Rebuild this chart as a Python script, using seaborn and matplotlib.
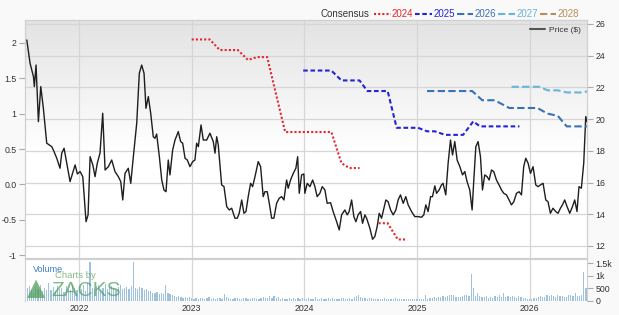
import numpy as np
import matplotlib
matplotlib.use("Agg")
import matplotlib.pyplot as plt
import seaborn as sns
from matplotlib.lines import Line2D

# consensus EPS estimates (left axis), x in fractional years
eps_2024_t = [2023.00, 2023.16, 2023.25, 2023.41, 2023.50, 2023.58, 2023.67, 2023.83, 2024.24, 2024.33, 2024.40, 2024.49]
eps_2024 = [2.05, 2.05, 1.90, 1.90, 1.76, 1.80, 1.80, 0.74, 0.74, 0.30, 0.23, 0.23]
eps_2024b_t = [2024.66, 2024.74, 2024.83, 2024.91]
eps_2024b = [-0.55, -0.55, -0.78, -0.78]
eps_2025_t = [2023.99, 2024.24, 2024.33, 2024.49, 2024.56, 2024.74, 2024.82, 2025.01, 2025.09, 2025.16, 2025.25, 2025.41, 2025.50, 2025.56, 2025.91]
eps_2025 = [1.61, 1.61, 1.47, 1.47, 1.32, 1.32, 0.80, 0.80, 0.75, 0.75, 0.70, 0.70, 0.89, 0.82, 0.82]
eps_2026_t = [2025.09, 2025.49, 2025.58, 2025.69, 2025.82, 2026.07, 2026.16, 2026.25, 2026.33, 2026.51]
eps_2026 = [1.32, 1.32, 1.19, 1.19, 1.08, 1.08, 1.00, 0.97, 0.82, 0.82]
eps_2027_t = [2025.84, 2026.09, 2026.16, 2026.25, 2026.33, 2026.49, 2026.51]
eps_2027 = [1.38, 1.38, 1.33, 1.33, 1.30, 1.30, 1.32]

# share price (right axis)
price_t = [
    2021.536, 2021.565, 2021.595, 2021.603, 2021.618, 2021.639, 2021.660, 2021.683, 2021.713, 2021.736,
    2021.758, 2021.778, 2021.802, 2021.831, 2021.846, 2021.867, 2021.891, 2021.920, 2021.965, 2021.985,
    2022.009, 2022.033, 2022.062, 2022.080, 2022.098, 2022.122, 2022.142, 2022.162, 2022.186, 2022.210,
    2022.231, 2022.260, 2022.290, 2022.319, 2022.349, 2022.370, 2022.388, 2022.408, 2022.437, 2022.459,
    2022.482, 2022.512, 2022.535, 2022.556, 2022.577, 2022.594, 2022.615, 2022.636, 2022.659, 2022.674,
    2022.689, 2022.713, 2022.734, 2022.754, 2022.772, 2022.792, 2022.807, 2022.831, 2022.852, 2022.881,
    2022.902, 2022.920, 2022.941, 2022.961, 2022.985, 2023.009, 2023.029, 2023.044, 2023.059, 2023.083,
    2023.103, 2023.133, 2023.162, 2023.192, 2023.207, 2023.222, 2023.236, 2023.266, 2023.287, 2023.311,
    2023.334, 2023.355, 2023.384, 2023.405, 2023.422, 2023.444, 2023.464, 2023.482, 2023.502, 2023.523,
    2023.541, 2023.562, 2023.591, 2023.612, 2023.635, 2023.650, 2023.671, 2023.689, 2023.710, 2023.730,
    2023.754, 2023.777, 2023.799, 2023.819, 2023.843, 2023.857, 2023.878, 2023.902, 2023.925, 2023.941,
    2023.955, 2023.976, 2023.996,
    2024.005, 2024.026, 2024.050, 2024.074, 2024.094, 2024.114, 2024.138, 2024.159, 2024.183, 2024.203,
    2024.233, 2024.256, 2024.287, 2024.310, 2024.331, 2024.360, 2024.381, 2024.398, 2024.420, 2024.440,
    2024.458, 2024.478, 2024.500, 2024.517, 2024.538, 2024.553, 2024.582, 2024.606, 2024.626, 2024.647,
    2024.665, 2024.686, 2024.700, 2024.724, 2024.744, 2024.766, 2024.789, 2024.813, 2024.833, 2024.854,
    2024.878, 2024.901, 2024.922, 2024.952, 2024.981, 2025.011, 2025.041, 2025.061, 2025.079, 2025.099,
    2025.121, 2025.138, 2025.159, 2025.174, 2025.197, 2025.218, 2025.232, 2025.256, 2025.277, 2025.298,
    2025.316, 2025.336, 2025.357, 2025.381, 2025.405, 2025.425, 2025.445, 2025.469, 2025.490, 2025.505,
    2025.523, 2025.543, 2025.564, 2025.582, 2025.602, 2025.623, 2025.641, 2025.662, 2025.682, 2025.706,
    2025.729, 2025.751, 2025.771, 2025.795, 2025.818, 2025.839, 2025.860, 2025.884, 2025.907, 2025.928,
    2025.948, 2025.966, 2025.987, 2026.008, 2026.031, 2026.055, 2026.075, 2026.097, 2026.120, 2026.144,
    2026.164, 2026.185, 2026.208, 2026.232, 2026.253, 2026.274, 2026.292, 2026.312, 2026.333, 2026.357,
    2026.381, 2026.401, 2026.421, 2026.439, 2026.460, 2026.481, 2026.499, 2026.510,
]
price = [
    24.99, 23.52, 22.68, 22.05, 23.41, 19.84, 22.05, 20.68, 18.48, 18.37,
    18.26, 17.95, 17.53, 16.90, 17.85, 18.16, 17.22, 16.06, 17.11, 16.54,
    16.69, 16.37, 13.53, 13.96, 17.63, 17.11, 16.37, 17.22, 17.85, 20.37,
    16.79, 17.00, 17.42, 16.69, 16.37, 16.06, 14.90, 16.58, 16.90, 15.95,
    17.63, 19.74, 22.89, 23.41, 22.89, 20.68, 21.42, 20.37, 18.89, 18.79,
    19.06, 17.63, 16.16, 15.53, 15.42, 17.42, 16.48, 18.05, 18.68, 19.21,
    18.58, 18.48, 17.53, 17.42, 17.00, 17.32, 17.42, 18.48, 18.26, 19.63,
    18.68, 18.68, 19.11, 18.58, 17.85, 18.89, 18.37, 15.85, 15.74, 14.48,
    14.27, 14.38, 13.75, 13.75, 14.06, 14.90, 14.06, 14.17, 15.11, 15.95,
    15.74, 16.37, 17.32, 17.00, 15.11, 15.42, 15.42, 14.69, 13.75, 13.75,
    14.69, 15.01, 15.11, 14.90, 16.16, 15.64, 16.16, 16.58, 16.90, 17.63,
    15.32, 16.48, 16.54,
    15.32, 15.95, 15.74, 16.16, 15.74, 15.11, 15.32, 15.74, 15.53, 14.69,
    14.73, 14.17, 13.53, 13.01, 13.96, 14.27, 13.96, 14.17, 14.90, 13.85,
    13.53, 13.96, 14.17, 13.43, 13.96, 13.75, 13.12, 12.42, 12.59, 13.22,
    14.06, 13.75, 14.17, 14.90, 14.79, 14.27, 13.96, 14.27, 14.90, 15.22,
    14.69, 15.11, 14.59, 14.17, 13.85, 13.85, 13.81, 13.96, 14.59, 14.17,
    15.11, 15.11, 15.79, 15.32, 15.53, 15.85, 15.95, 15.22, 17.22, 18.68,
    17.74, 18.58, 17.42, 17.00, 16.48, 16.69, 16.06, 15.53, 14.27, 16.16,
    18.26, 18.58, 17.63, 15.53, 16.48, 16.37, 16.16, 16.79, 16.69, 16.16,
    15.85, 15.53, 15.32, 15.22, 14.90, 14.59, 14.79, 15.32, 15.42, 15.22,
    17.00, 17.53, 17.22, 16.58, 17.00, 15.85, 15.74, 15.85, 15.95, 14.90,
    14.79, 14.06, 14.38, 14.17, 14.06, 14.38, 14.59, 14.90, 14.48, 14.06,
    14.48, 14.90, 14.17, 15.74, 15.64, 17.22, 20.16, 19.84,
]

# weekly volume (thousands of shares), starting mid 2021
vol_start = 2021.52
volume = [
    380, 520, 610, 450, 330, 560, 480, 640, 390, 510, 450, 700, 420, 560, 380, 610, 470, 530, 350, 590,
    480, 420, 650, 510, 440,
    560, 480, 620, 390, 700, 1550, 520, 460, 580, 640, 430, 520, 690, 470, 560, 610, 500, 430, 540, 620,
    480, 520, 560, 470, 590, 1560,
    520, 480, 560, 500, 440, 470, 380, 410, 330, 300, 350, 290, 330, 280, 620, 300, 260, 220, 180, 160,
    200, 150, 130, 170, 120, 140,
    110, 90, 130, 80, 100, 120, 70, 110, 140, 90, 100, 80, 130, 100, 90, 280, 150, 120, 90, 80,
    110, 130, 70, 90, 100, 120, 80, 90, 110, 100, 70, 90, 130, 150, 110, 100, 180, 120, 200, 130,
    150, 90, 110, 80, 70, 100, 90, 120, 80, 100, 90, 110,
    80, 60, 100, 70, 90, 140, 80, 60, 110, 90, 70, 120, 80, 100, 60, 90, 70, 110, 130, 80,
    90, 100, 70, 150, 180, 240, 160, 120, 110, 90, 100, 120, 80, 70, 60, 90, 80, 110, 70, 60,
    80, 90, 100, 70, 60, 80, 90, 70, 60, 80, 70, 90,
    80, 60, 90, 70, 250, 90, 110, 100, 150, 130, 160, 140, 180, 170, 200, 230, 250, 220, 170, 160,
    150, 180, 220, 240, 180, 1070, 510, 200, 300, 180, 160, 140, 200, 120, 150, 110, 180, 140, 230, 160,
    300, 150, 180, 140, 200, 170, 130, 180, 150, 120, 100, 90,
    70, 90, 110, 130, 160, 200, 170, 150, 230, 180, 250, 200, 160, 240, 180, 200, 150, 170, 250, 220,
    180, 300, 200, 180, 240, 1150, 520,
]

years = [2022, 2023, 2024, 2025, 2026]
year_labels = ["2022", "2023", "2024", "2025", "2026"]
eps_ticks = [2, 1.5, 1, 0.5, 0, -0.5, -1]
eps_labels = ["2", "1.5", "1", "0.5", "0.0", "-0.5", "-1"]
price_ticks = [12, 14, 16, 18, 20, 22, 24, 26]
vol_ticks = [0, 500, 1000, 1500]
vol_labels = ["0", "500", "1k", "1.5k"]

C24, C25, C26, C27, C28 = "#e3262e", "#2424d6", "#3a72b8", "#68b4dc", "#b68f58"
TXT, GRID, TICK = "#333333", "#d6d6d6", "#aaaaaa"
FS = 6.3

sns.set_theme(style="white")
plt.rcParams["font.family"] = ["Liberation Sans", "DejaVu Sans"]

W, H = 619, 315
fig = plt.figure(figsize=(W / 100, H / 100), dpi=100)
fig.patch.set_facecolor("#f9f9f9")

ax = fig.add_axes([25 / W, 1 - 258 / H, 562 / W, 238 / H])
axc = ax.twinx()
axv = fig.add_axes([25 / W, 1 - 301 / H, 562 / W, 42 / H], sharex=ax)

# gray-to-white gradient in the upper part of the plot
grad = np.ones((200, 1, 3))
fade = np.clip(np.linspace(0, 1, 200) / 0.55, 0, 1)
grad[:, 0, :] = (0.89 + 0.11 * fade)[:, None]
ax.imshow(grad, extent=[0, 1, 0, 1], transform=ax.transAxes, aspect="auto", zorder=0)

sns.lineplot(x=price_t, y=price, ax=ax, color="#1e1e1e", lw=1.0, sort=False, estimator=None, zorder=3)

dot = (0, (1, 1))
dash25 = (0, (2.2, 1.3))
dash26 = (0, (3.5, 1.6))
sns.lineplot(x=eps_2024_t, y=eps_2024, ax=axc, color=C24, lw=1.5, linestyle=dot, sort=False, estimator=None)
sns.lineplot(x=eps_2024b_t, y=eps_2024b, ax=axc, color=C24, lw=1.5, linestyle=dot, sort=False, estimator=None)
sns.lineplot(x=eps_2025_t, y=eps_2025, ax=axc, color=C25, lw=1.5, linestyle=dash25, sort=False, estimator=None)
sns.lineplot(x=eps_2026_t, y=eps_2026, ax=axc, color=C26, lw=1.5, linestyle=dash26, sort=False, estimator=None)
sns.lineplot(x=eps_2027_t, y=eps_2027, ax=axc, color=C27, lw=1.5, linestyle=dash26, sort=False, estimator=None)

vol_t = vol_start + np.arange(len(volume)) / 52
axv.bar(vol_t, volume, width=0.011, color="#9ec2de", edgecolor="none", zorder=2)

ax.set_xlim(2021.52, 2026.51)
ax.set_ylim(11.24, 26.25)
axc.set_ylim(-1.042, 2.325)
axv.set_ylim(0, 1660)

# price axis on the right with grid, estimate axis on the left
ax.yaxis.tick_right()
ax.set_yticks(price_ticks)
ax.set_xticks(years)
ax.grid(True, color=GRID, lw=0.9)
ax.set_axisbelow(True)
ax.tick_params(axis="x", bottom=False, labelbottom=False, length=0)
ax.tick_params(axis="y", right=True, length=4, width=0.8, color=TICK,
               labelsize=FS, labelcolor=TXT, pad=2)
axc.yaxis.tick_left()
axc.set_yticks(eps_ticks)
axc.set_yticklabels(eps_labels)
axc.tick_params(axis="y", left=True, right=False, length=4, width=0.8, color=TICK,
                labelsize=FS, labelcolor=TXT, pad=2)

axv.set_facecolor("white")
axv.yaxis.tick_right()
axv.set_yticks(vol_ticks)
axv.set_yticklabels(vol_labels)
axv.set_xticks(years)
axv.set_xticklabels(year_labels)
axv.grid(True, axis="x", color=GRID, lw=0.9)
axv.set_axisbelow(True)
axv.tick_params(axis="y", right=True, length=4, width=0.8, color=TICK,
                labelsize=FS, labelcolor=TXT, pad=2)
axv.tick_params(axis="x", bottom=False, length=0, labelsize=FS, labelcolor=TXT, pad=2)

for a in (ax, axc, axv):
    a.set_xlabel("")
    a.set_ylabel("")
    for s in a.spines.values():
        s.set_color("#d0d0d0")
        s.set_linewidth(0.8)
axv.spines["bottom"].set_visible(False)

# top legend
fig.text(369 / W, 1 - 14 / H, "Consensus", ha="right", va="center", fontsize=7, color=TXT)
handles = [
    Line2D([], [], color=C24, lw=1.5, linestyle=dot),
    Line2D([], [], color=C25, lw=1.5, linestyle=dash25),
    Line2D([], [], color=C26, lw=1.5, linestyle=dash26),
    Line2D([], [], color=C27, lw=1.5, linestyle=dash26),
    Line2D([], [], color=C28, lw=1.5, linestyle=dash26),
]
leg = fig.legend(handles, ["2024", "2025", "2026", "2027", "2028"], ncol=5, frameon=False,
                 loc="center left", bbox_to_anchor=(374 / W, 1 - 14 / H), fontsize=7,
                 handlelength=1.7, handletextpad=0.15, columnspacing=0.2, borderpad=0,
                 borderaxespad=0)
for t, c in zip(leg.get_texts(), [C24, C25, C26, C27, C28]):
    t.set_color(c)

pleg = ax.legend([Line2D([], [], color="#555555", lw=1.5)], ["Price ($)"], loc="upper right",
                 frameon=False, fontsize=6, handlelength=1.8, handletextpad=0.5,
                 borderaxespad=0.35, bbox_to_anchor=(1.0, 1.0))
pleg.get_texts()[0].set_color(TXT)

# volume label and watermark
axv.text(0.014, 0.76, "Volume", transform=axv.transAxes, fontsize=6.5, color="#3f7cc0", va="center")
axv.text(0.054, 0.60, "Charts by", transform=axv.transAxes, fontsize=6.8, color="#6aa86a",
         alpha=0.8, va="center")
axv.text(0.004, 0.30, "\u25b2", transform=axv.transAxes, fontsize=17, color="#4e9f5a",
         alpha=0.75, va="center", family="DejaVu Sans")
axv.text(0.047, 0.25, "ZACKS", transform=axv.transAxes, fontsize=15, color="#4e9f5a",
         alpha=0.72, va="center")

fig.savefig("out.png", dpi=100, facecolor=fig.get_facecolor())
